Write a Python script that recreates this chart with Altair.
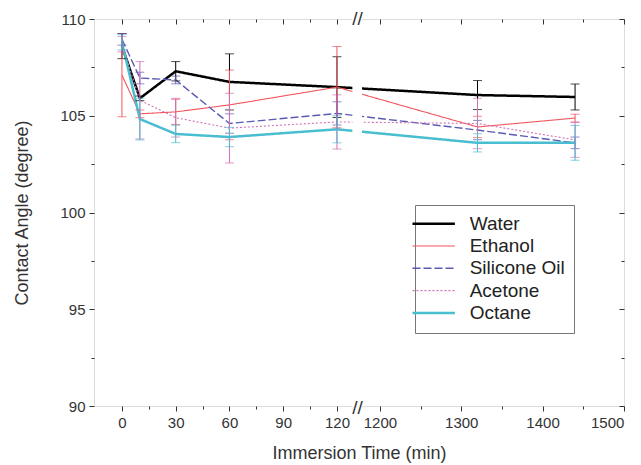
import altair as alt
import pandas as pd

# ---- data ----
times = [0, 10, 30, 60, 120, 1320, 1440]
series = ["Water", "Ethanol", "Silicone Oil", "Acetone", "Octane"]
water = [108.6, 105.9, 107.3, 106.75, 106.48, 106.07, 105.97]
water_err = [0.65, 0.12, 0.5, 1.45, 1.57, 0.75, 0.67]
ethanol = [107.1, 105.1, 105.2, 105.56, 106.48, 104.42, 104.88]
ethanol_err = [2.15, 0.2, 0.65, 1.8, 2.1, 0.55, 0.2]
silicone = [108.95, 106.95, 106.85, 104.6, 105.12, 104.26, 103.6]
silicone_err = [0.3, 0.3, 0.2, 0.5, 0.6, 0.5, 0.3]
acetone = [108.7, 105.8, 104.9, 104.36, 104.68, 104.6, 103.75]
acetone_err = [0.4, 2.0, 1.0, 1.8, 1.4, 1.3, 0.9]
octane = [108.8, 104.83, 104.06, 103.9, 104.3, 103.6, 103.6]
octane_err = [0.4, 1.08, 0.45, 0.5, 0.7, 0.47, 0.9]

left_ticks = [0, 30, 60, 90, 120]
left_minor = [15, 45, 75, 105]
right_ticks = [1200, 1300, 1400, 1500]
right_minor = [1250, 1350, 1450]
y_ticks = [90, 95, 100, 105, 110]
y_minor = [92.5, 97.5, 102.5, 107.5]

colors = ["#000000", "#f0545c", "#5a5ab4", "#d070b8", "#48bed0"]
dashes = [[1, 0], [1, 0], [8, 3], [2, 2], [1, 0]]
widths = [2.5, 1.1, 1.4, 1.1, 2.5]

# broken axis: right segment is compressed and shifted
R0, RK = 144.0, 0.4537


def disp(t):
    return t if t < 600 else R0 + (t - 1200) * RK


values = [water, ethanol, silicone, acetone, octane]
errors = [water_err, ethanol_err, silicone_err, acetone_err, octane_err]
rows = []
for s, v, e in zip(series, values, errors):
    for t, a, b in zip(times, v, e):
        rows.append({"series": s, "t": t, "angle": a, "err": b})
df = pd.DataFrame(rows)

W, H = 530, 387
xdom = [-15.6, 280.2]
font = "Liberation Sans"

xscale = alt.Scale(domain=xdom, nice=False, zero=False)
yscale = alt.Scale(domain=[90, 110], nice=False, zero=False)

major_x = [disp(t) for t in left_ticks + right_ticks]
minor_x = [disp(t) for t in left_minor + right_minor]
label_expr = (f"datum.value > 135 ? format(1200 + (datum.value - {R0}) / {RK}, '.0f')"
              " : format(datum.value, '.0f')")

base = alt.Chart(df).transform_calculate(
    d=f"datum.t < 600 ? datum.t : {R0} + (datum.t - 1200) * {RK}"
)

legend = alt.Legend(
    title=None, orient="none", legendX=321, legendY=186,
    symbolType="M-3,0H3", symbolSize=200, labelFontSize=19, labelFont=font,
    labelColor="#222", fillColor="white", strokeColor="#777", padding=9.2,
    rowPadding=2.3, labelOffset=26.5,
)
color_enc = alt.Color("series:N", scale=alt.Scale(domain=series, range=colors), legend=legend)
dash_enc = alt.StrokeDash("series:N", scale=alt.Scale(type="ordinal", domain=series, range=dashes),
                          legend=legend)
width_enc = alt.StrokeWidth("series:N", scale=alt.Scale(type="ordinal", domain=series, range=widths),
                            legend=legend)


def xaxis(orient, vals, size, labels=False, title=None, offset=0):
    kw = dict(orient=orient, values=vals, tickSize=size, labels=labels, domain=False,
              grid=False, tickColor="#333", tickWidth=1, offset=offset,
              labelFont=font, labelFontSize=15, labelColor="#333", labelPadding=4,
              titleFont=font, titleFontSize=18, titleFontWeight="normal",
              titleColor="#333", titlePadding=14)
    if labels:
        kw["labelExpr"] = label_expr
    kw["title"] = title if title else None
    return alt.Axis(**kw)


def yaxis(orient, vals, size, labels=False, title=None, offset=0):
    kw = dict(orient=orient, values=vals, tickSize=size, labels=labels, domain=False,
              grid=False, tickColor="#333", tickWidth=1, offset=offset,
              labelFont=font, labelFontSize=15, labelColor="#333", labelPadding=4,
              titleFont=font, titleFontSize=18, titleFontWeight="normal",
              titleColor="#333", titlePadding=28)
    kw["title"] = title if title else None
    return alt.Axis(**kw)


lines = base.mark_line().encode(
    x=alt.X("d:Q", scale=xscale,
            axis=xaxis("bottom", major_x, 5, labels=True, title="Immersion Time (min)")),
    y=alt.Y("angle:Q", scale=yscale,
            axis=yaxis("left", y_ticks, 5, labels=True, title="Contact Angle (degree)")),
    color=color_enc, strokeDash=dash_enc, strokeWidth=width_enc,
    order=alt.Order("t:Q"),
)

errbars = base.mark_errorbar(ticks={"size": 9}, thickness=1).encode(
    x=alt.X("d:Q", scale=xscale, axis=xaxis("top", major_x, 5, offset=-5)),
    y=alt.Y("angle:Q", scale=yscale, axis=yaxis("right", y_ticks, 5, offset=-5)),
    yError="err:Q",
    color=alt.Color("series:N", scale=alt.Scale(domain=series, range=colors), legend=None),
)

minor_out = base.mark_point(opacity=0).encode(
    x=alt.X("d:Q", scale=xscale, axis=xaxis("bottom", minor_x, 3)),
    y=alt.Y("angle:Q", scale=yscale, axis=yaxis("left", y_minor, 3)),
)
minor_in = base.mark_point(opacity=0).encode(
    x=alt.X("d:Q", scale=xscale, axis=xaxis("top", minor_x, 3, offset=-3)),
    y=alt.Y("angle:Q", scale=yscale, axis=yaxis("right", y_minor, 3, offset=-3)),
)

one = pd.DataFrame({"a": [0]})
gap = alt.Chart(one).mark_rect(color="white").encode(
    x=alt.X(datum=128.6, scale=xscale, axis=None), x2=alt.X2(datum=134.0),
    y=alt.value(-4), y2=alt.value(H + 4),
)

slash_top = alt.Chart(one).mark_text(
    text="//", fontSize=19, font=font, color="#333").encode(
    x=alt.X(datum=131.5, scale=xscale, axis=None),
    y=alt.Y(datum=110, scale=yscale, axis=None),
)
slash_bot = alt.Chart(one).mark_text(
    text="//", fontSize=19, font=font, color="#333", dy=2).encode(
    x=alt.X(datum=131.5, scale=xscale, axis=None),
    y=alt.Y(datum=90, scale=yscale, axis=None),
)

chart = alt.layer(lines, errbars, minor_out, minor_in, gap, slash_top, slash_bot).resolve_axis(
    x="independent", y="independent"
).properties(
    width=W, height=H,
    autosize=alt.AutoSizeParams(type="none"),
    padding={"left": 94, "top": 19, "right": 17, "bottom": 59},
).configure_view(stroke="#333", strokeWidth=1.2).configure(background="white")

chart.save("out.html", embed_options={"renderer": "svg", "actions": False})
